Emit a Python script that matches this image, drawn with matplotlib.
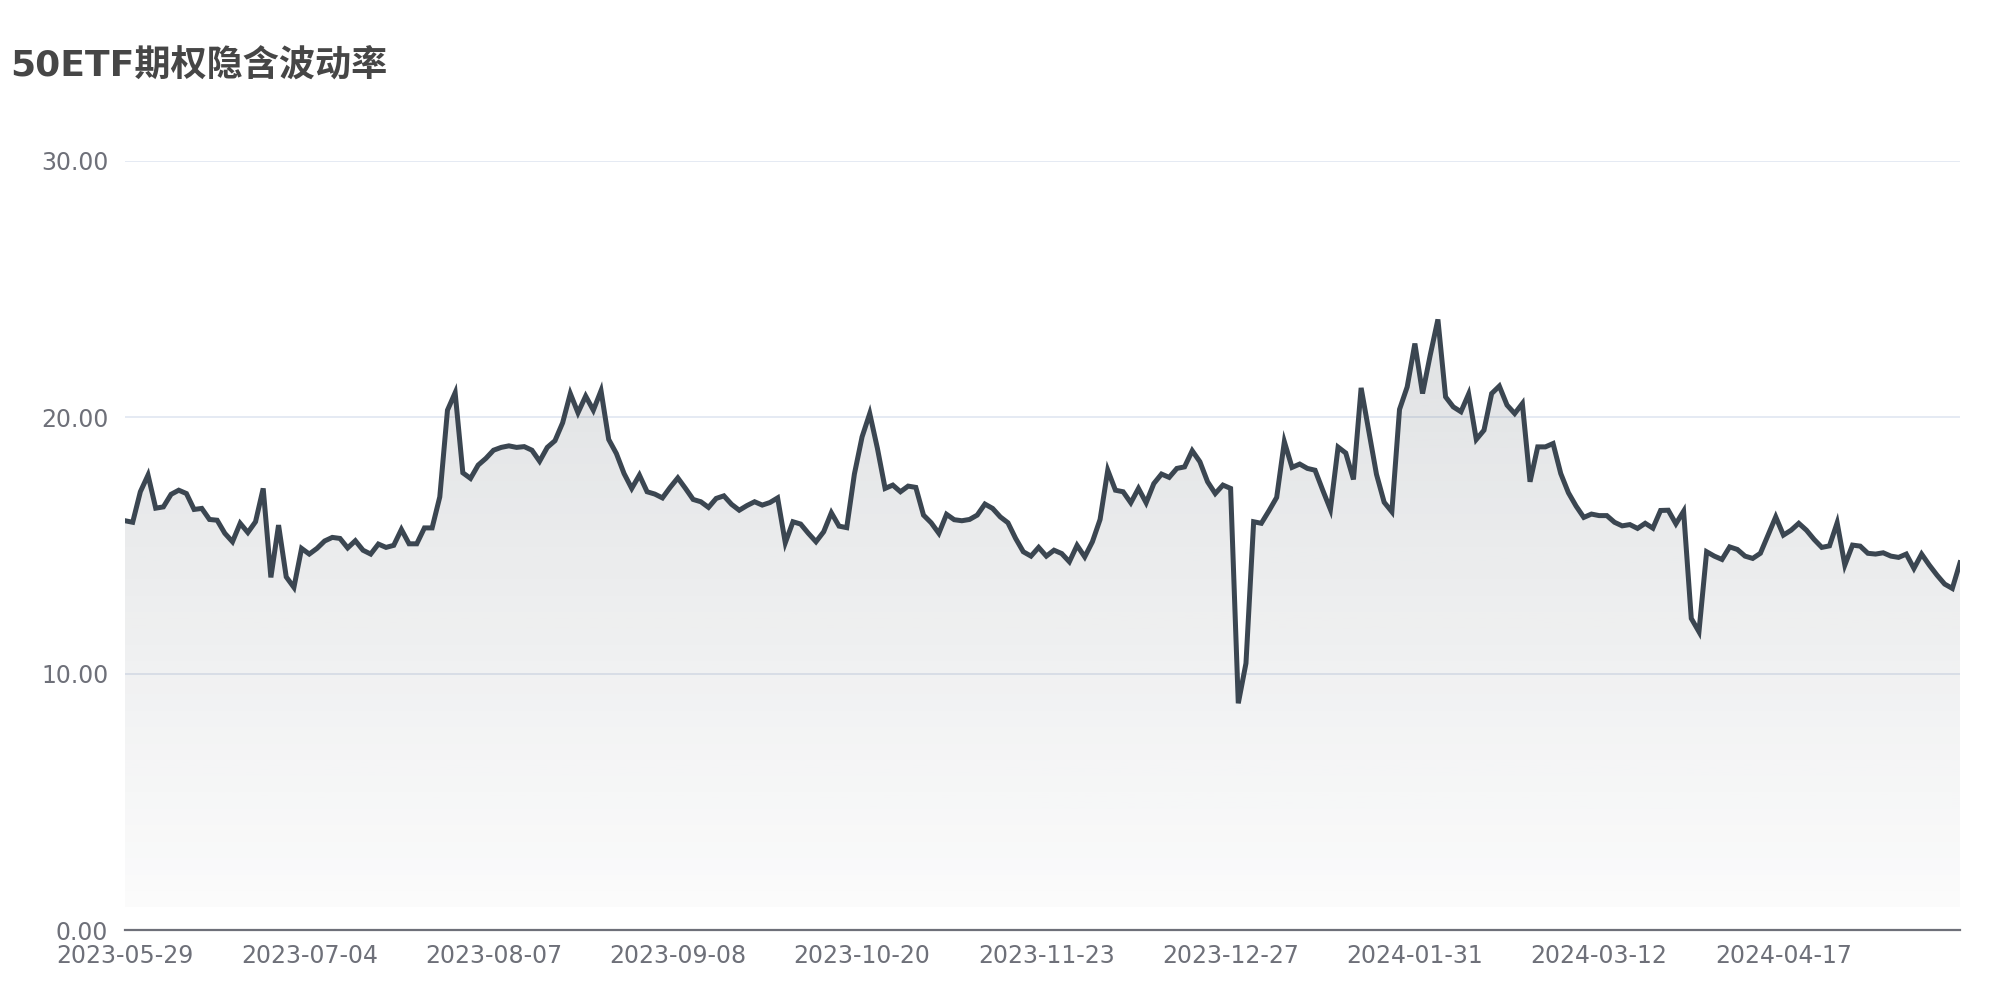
"""
50ETF option implied volatility line chart with a soft gradient area.
Saves out.png (2000x1000).
"""

import matplotlib.pyplot as plt
import numpy as np
from matplotlib.colors import LinearSegmentedColormap, to_rgb

TITLE = "50ETF期权隐含波动率"

# daily implied volatility (%)
iv_values = [
    15.96, 15.90, 17.09, 17.74, 16.45, 16.50, 16.99, 17.15, 17.02, 16.40,
    16.44, 16.01, 15.98, 15.47, 15.14, 15.86, 15.50, 15.92, 17.22, 13.75,
    15.79, 13.77, 13.36, 14.88, 14.66, 14.88, 15.17, 15.31, 15.27, 14.90,
    15.18, 14.81, 14.66, 15.05, 14.92, 15.00, 15.62, 15.06, 15.06, 15.68,
    15.68, 16.89, 20.27, 20.95, 17.83, 17.61, 18.13, 18.39, 18.71, 18.82,
    18.88, 18.82, 18.85, 18.71, 18.28, 18.82, 19.08, 19.78, 20.92, 20.17,
    20.82, 20.27, 21.03, 19.13, 18.58, 17.80, 17.22, 17.74, 17.09, 17.00,
    16.85, 17.26, 17.63, 17.22, 16.79, 16.70, 16.48, 16.83, 16.93, 16.60,
    16.37, 16.55, 16.70, 16.57, 16.67, 16.85, 15.10, 15.92, 15.83, 15.47,
    15.14, 15.53, 16.27, 15.75, 15.69, 17.78, 19.23, 20.14, 18.78, 17.22,
    17.35, 17.09, 17.31, 17.26, 16.18, 15.88, 15.47, 16.21, 16.00, 15.96,
    16.01, 16.18, 16.61, 16.44, 16.11, 15.88, 15.27, 14.75, 14.58, 14.92,
    14.58, 14.81, 14.68, 14.36, 15.00, 14.55, 15.14, 16.01, 17.93, 17.15,
    17.09, 16.66, 17.22, 16.66, 17.41, 17.78, 17.65, 18.00, 18.06, 18.69,
    18.26, 17.48, 17.02, 17.35, 17.22, 8.84, 10.40, 15.92, 15.86, 16.35,
    16.87, 19.04, 18.04, 18.17, 18.00, 17.93, 17.15, 16.40, 18.83, 18.60,
    17.57, 21.14, 19.46, 17.77, 16.68, 16.31, 20.30, 21.18, 22.87, 20.92,
    22.42, 23.81, 20.79, 20.40, 20.21, 20.90, 19.13, 19.49, 20.92, 21.21,
    20.47, 20.14, 20.53, 17.48, 18.84, 18.84, 18.97, 17.80, 17.05, 16.53,
    16.09, 16.22, 16.16, 16.16, 15.90, 15.76, 15.81, 15.66, 15.86, 15.67,
    16.36, 16.37, 15.84, 16.33, 12.15, 11.63, 14.75, 14.58, 14.45, 14.94,
    14.84, 14.58, 14.49, 14.69, 15.40, 16.11, 15.40, 15.59, 15.86, 15.59,
    15.23, 14.92, 14.98, 15.88, 14.23, 15.01, 14.97, 14.69, 14.66, 14.71,
    14.58, 14.53, 14.66, 14.10, 14.66, 14.23, 13.84, 13.49, 13.32, 14.32,
]

# labels shown on the category axis (every 24th trading day)
date_labels = [
    "2023-05-29", "2023-07-04", "2023-08-07", "2023-09-08", "2023-10-20",
    "2023-11-23", "2023-12-27", "2024-01-31", "2024-03-12", "2024-04-17",
]
y_ticks = [0, 10, 20, 30]

LINE_COLOR = "#3b4651"
GRID_COLOR = "#e0e6f1"
AXIS_COLOR = "#6e7079"
TEXT_COLOR = "#6e7079"
TITLE_COLOR = "#464646"
LABEL_STEP = 24
FILL_BASE = 0.9

plt.rcParams["font.family"] = ["DejaVu Sans", "Noto Sans CJK SC"]

fig = plt.figure(figsize=(20, 10), dpi=100)
ax = fig.add_axes([0.0625, 0.07, 0.9175, 0.7693])

x = np.arange(len(iv_values))
y = np.array(iv_values)

# gradient area under the line
base_rgb = to_rgb(LINE_COLOR)
cmap = LinearSegmentedColormap.from_list(
    "fade", [(*base_rgb, 0.02), (*base_rgb, 0.16)])
poly = ax.fill_between(x, y, FILL_BASE, color="none", lw=0)
grad = np.linspace(0, 1, 256).reshape(-1, 1)
img = ax.imshow(grad, cmap=cmap, aspect="auto", origin="lower",
                extent=[x[0], x[-1], FILL_BASE, y.max()], zorder=1)
img.set_clip_path(poly.get_paths()[0], transform=ax.transData)

ax.plot(x, y, color=LINE_COLOR, lw=3.6, solid_joinstyle="miter", zorder=3)

ax.set_xlim(x[0], x[-1])
ax.set_ylim(0, 30)

ax.set_xticks(x[::LABEL_STEP][:len(date_labels)])
ax.set_xticklabels(date_labels)
ax.set_yticks(y_ticks)
ax.set_yticklabels([f"{v:.2f}" for v in y_ticks])
ax.tick_params(axis="both", length=0, labelsize=17, labelcolor=TEXT_COLOR)
ax.tick_params(axis="x", pad=10)
ax.tick_params(axis="y", pad=12)

ax.grid(axis="y", color=GRID_COLOR, lw=1.2)
ax.grid(axis="x", visible=False)
ax.set_axisbelow(True)
for side in ["top", "right", "left"]:
    ax.spines[side].set_visible(False)
ax.spines["bottom"].set_color(AXIS_COLOR)
ax.spines["bottom"].set_linewidth(1.6)
ax.spines["bottom"].set_zorder(4)

fig.text(0.005, 0.935, TITLE, fontsize=26, fontweight="bold",
         color=TITLE_COLOR, va="center", ha="left")

fig.savefig("out.png", dpi=100)
plt.close(fig)
